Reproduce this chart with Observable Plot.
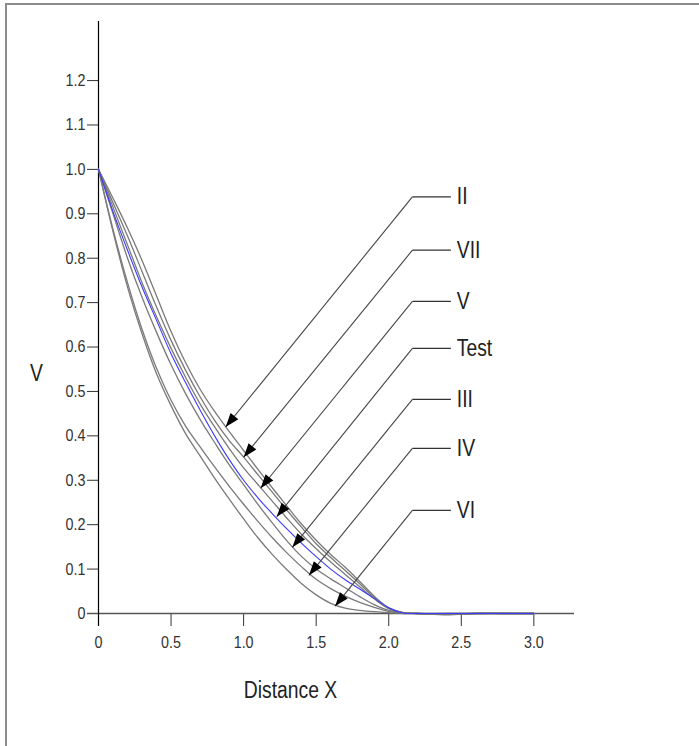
<!DOCTYPE html>
<html><head><meta charset="utf-8">
<script src="https://cdn.jsdelivr.net/npm/d3@7"></script>
<script src="https://cdn.jsdelivr.net/npm/@observablehq/plot@0.6"></script>
<style>
body{margin:0;background:#fff;}
#wrap{position:relative;width:699px;height:746px;overflow:hidden;background:#fff;}
#frame{position:absolute;left:5px;top:3px;right:-10px;bottom:-10px;border-top:2px solid #8c8c8c;border-left:2px solid #8c8c8c;pointer-events:none;}
svg{display:block;}
</style></head><body><div id="wrap"><div id="frame"></div></div>
<script>
// distance values (x)
const xs = [0,0.1,0.2,0.3,0.4,0.5,0.6,0.7,0.8,0.9,1.0,1.1,1.2,1.3,1.4,1.5,1.6,1.7,1.8,1.9,2.0,2.1,2.2,2.4,2.6,2.8,3.0];
// series values (V)
const vII   = [1,0.935,0.868,0.795,0.715,0.635,0.565,0.505,0.455,0.41,0.367,0.324,0.282,0.241,0.201,0.165,0.133,0.104,0.072,0.039,0.013,0.002,0,-0.002,0.001,0,0];
const vVII  = [1,0.925,0.85,0.77,0.69,0.615,0.548,0.488,0.435,0.39,0.352,0.312,0.272,0.232,0.194,0.157,0.126,0.097,0.067,0.036,0.012,0.002,0,-0.001,0,0,0];
const vV    = [1,0.915,0.83,0.745,0.668,0.597,0.532,0.472,0.42,0.372,0.328,0.29,0.252,0.214,0.178,0.146,0.116,0.088,0.06,0.033,0.011,0.002,0,0,0,0,0];
const vTest = [1,0.905,0.818,0.735,0.66,0.585,0.52,0.458,0.4,0.347,0.3,0.26,0.224,0.19,0.158,0.128,0.1,0.076,0.055,0.034,0.013,0.001,0,0,0,0,0];
const vIII  = [1,0.9,0.8,0.712,0.633,0.56,0.495,0.437,0.385,0.335,0.29,0.245,0.203,0.163,0.128,0.1,0.078,0.058,0.038,0.02,0.007,0.001,0,-0.002,0,0,0];
const vIV   = [1,0.865,0.745,0.64,0.552,0.48,0.422,0.375,0.33,0.287,0.246,0.207,0.17,0.136,0.105,0.077,0.056,0.039,0.025,0.014,0.005,0.001,0,-0.003,0,0.001,0];
const vVI   = [1,0.86,0.735,0.63,0.54,0.468,0.405,0.355,0.305,0.258,0.213,0.17,0.132,0.098,0.067,0.042,0.023,0.012,0.007,0.004,0.002,0,0,0,0,0,0];

// annotation labels
const labels = ["II","VII","V","Test","III","IV","VI"];
const labelY = [0.938,0.818,0.703,0.597,0.482,0.372,0.232];
const tipX   = [0.876,1.0,1.117,1.228,1.336,1.45,1.63];
const tipY   = [0.42,0.352,0.282,0.218,0.149,0.086,0.0165];
const elbowX = 2.163, lineEndX = 2.428, labelX = 2.469;

// ticks
const xTicks = [0,0.5,1.0,1.5,2.0,2.5,3.0];
const yTicks = [0,0.1,0.2,0.3,0.4,0.5,0.6,0.7,0.8,0.9,1.0,1.1,1.2];

const series = {II:vII, VII:vVII, V:vV, III:vIII, IV:vIV, VI:vVI};
const grayRows = [];
for (const [name, vals] of Object.entries(series)) xs.forEach((x,i)=>grayRows.push({series:name, x, y:vals[i]}));
const testRows = xs.map((x,i)=>({series:"Test", x, y:vTest[i]}));
const ann = labels.map((l,i)=>({label:l, ly:labelY[i], tx:tipX[i], ty:tipY[i]}));

const fmt = d => d === 0 ? "0" : d.toFixed(1);
const FONT = "'Liberation Sans',Arial,sans-serif";

// filled arrowhead, tip at origin, pointing down-left along the leader lines
const ux = -0.63, uy = 0.776, L = 14, W = 10;
const head = {draw(ctx){
  const bx = -ux*L, by = -uy*L, nx = uy, ny = -ux;
  ctx.moveTo(0,0);
  ctx.lineTo(bx + nx*W/2, by + ny*W/2);
  ctx.lineTo(bx - nx*W/2, by - ny*W/2);
  ctx.closePath();
}};

const chart = Plot.plot({
  width: 699, height: 746,
  marginLeft: 98, marginRight: 125, marginTop: 21, marginBottom: 133,
  x: {domain: [0, 3.28]},
  y: {domain: [0, 1.333]},
  style: {fontFamily: FONT, background: "transparent", overflow: "visible"},
  marks: [
    Plot.axisY(yTicks, {tickSize: 11, tickPadding: 2, tickFormat: fmt, fontSize: 17, color: "#333", stroke: "#333", label: null}),
    Plot.axisX(xTicks, {tickSize: 13, tickPadding: 9, tickFormat: fmt, fontSize: 17, color: "#333", stroke: "#333", label: null}),
    Plot.ruleY([0], {stroke: "#555", strokeWidth: 1.3, insetLeft: -11}),
    Plot.ruleX([0], {stroke: "#000", strokeWidth: 1.2, insetBottom: -13}),
    Plot.line(grayRows, {x: "x", y: "y", z: "series", stroke: "#7a7a7a", strokeWidth: 1.3, curve: "catmull-rom"}),
    Plot.line(testRows, {x: "x", y: "y", stroke: "#3a3aff", strokeWidth: 1.1, curve: "catmull-rom"}),
    Plot.link(ann, {x1: elbowX, y1: "ly", x2: "tx", y2: "ty", stroke: "#444", strokeWidth: 1.1}),
    Plot.link(ann, {x1: elbowX, y1: "ly", x2: lineEndX, y2: "ly", stroke: "#333", strokeWidth: 1.3}),
    Plot.dot(ann, {x: "tx", y: "ty", symbol: head, fill: "#000", stroke: "none"}),
    Plot.text(ann, {x: labelX, y: "ly", text: "label", textAnchor: "start", fontSize: 23, fill: "#222"}),
    Plot.text(["V"], {frameAnchor: "left", textAnchor: "middle", lineAnchor: "middle", dx: -62, dy: 56, fontSize: 23, fill: "#222"}),
    Plot.text(["Distance X"], {frameAnchor: "bottom", textAnchor: "middle", lineAnchor: "middle", dx: -46, dy: 77, fontSize: 23, fill: "#222"})
  ]
});
document.getElementById("wrap").prepend(chart);
// the reference uses a narrow sans face: compress glyphs horizontally
chart.querySelectorAll("text").forEach(t => {
  const len = t.getComputedTextLength();
  if (len > 0) {
    t.setAttribute("textLength", (len * 0.84).toFixed(1));
    t.setAttribute("lengthAdjust", "spacingAndGlyphs");
  }
});
</script>
</body></html>
